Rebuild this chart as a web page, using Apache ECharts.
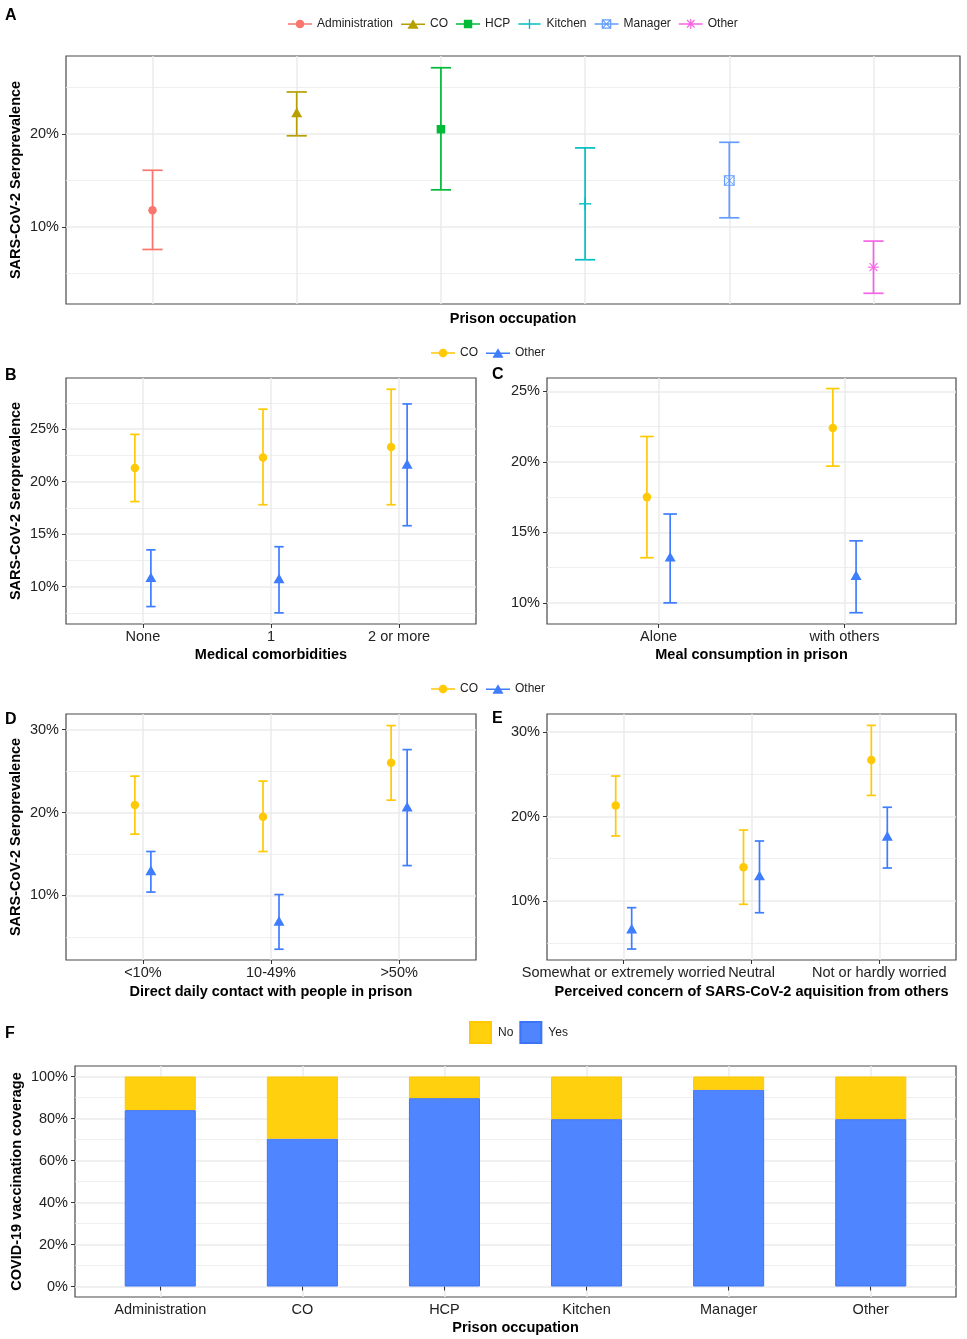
<!DOCTYPE html>
<html><head><meta charset="utf-8">
<script src="https://cdn.jsdelivr.net/npm/echarts@6.0.0/dist/echarts.min.js"></script>
<style>html,body{margin:0;padding:0;background:#fff}#c{width:967px;height:1339px}</style>
</head><body><div id="c"></div>
<script>
// ---------------- DATA ----------------
const occupations = ['Administration', 'CO', 'HCP', 'Kitchen', 'Manager', 'Other'];
const seroA_est  = [11.8, 22.2, 20.5, 12.5, 15.0, 5.7];
const seroA_low  = [7.6, 19.8, 14.0, 6.5, 11.0, 2.9];
const seroA_high = [16.1, 24.5, 27.1, 18.5, 19.1, 8.5];

const comorbCats = ['None', '1', '2 or more'];
const comorbCO_est  = [21.3, 22.3, 23.3];
const comorbCO_low  = [18.1, 17.8, 17.8];
const comorbCO_high = [24.5, 26.9, 28.8];
const comorbOt_est  = [10.8, 10.7, 21.6];
const comorbOt_low  = [8.1, 7.5, 15.8];
const comorbOt_high = [13.5, 13.8, 27.4];

const mealCats = ['Alone', 'with others'];
const mealCO_est  = [17.5, 22.4];
const mealCO_low  = [13.2, 19.7];
const mealCO_high = [21.8, 25.2];
const mealOt_est  = [13.2, 11.9];
const mealOt_low  = [10.0, 9.3];
const mealOt_high = [16.3, 14.4];

const contactCats = ['<10%', '10-49%', '>50%'];
const contactCO_est  = [20.9, 19.5, 26.0];
const contactCO_low  = [17.4, 15.3, 21.5];
const contactCO_high = [24.4, 23.8, 30.5];
const contactOt_est  = [12.9, 6.8, 20.6];
const contactOt_low  = [10.4, 3.5, 13.6];
const contactOt_high = [15.3, 10.1, 27.6];

const concernCats = ['Somewhat or extremely worried', 'Neutral', 'Not or hardly worried'];
const concernCO_est  = [21.3, 14.0, 26.7];
const concernCO_low  = [17.7, 9.6, 22.5];
const concernCO_high = [24.8, 18.4, 30.8];
const concernOt_est  = [6.6, 12.9, 17.6];
const concernOt_low  = [4.3, 8.6, 13.9];
const concernOt_high = [9.2, 17.1, 21.1];

const vaccYes = [84.0, 70.4, 89.7, 79.7, 93.7, 79.7];
const vaccNo  = [16.0, 29.6, 10.3, 20.3, 6.3, 20.3];

// tick values
const ticksA = [10, 20], minorA = [5, 15, 25];
const ticksB = [10, 15, 20, 25], minorB = [7.5, 12.5, 17.5, 22.5, 27.5];
const ticksC = [10, 15, 20, 25], minorC = [12.5, 17.5, 22.5];
const ticksD = [10, 20, 30], minorD = [5, 15, 25];
const ticksE = [10, 20, 30], minorE = [5, 15, 25];
const ticksF = [0, 20, 40, 60, 80, 100], minorF = [10, 30, 50, 70, 90];

// ---------------- STYLE ----------------
const FONT = 'Liberation Sans, Arial, Helvetica, sans-serif';
const GRID_COL = '#EBEBEB';
const TXT = '#222222';
const colorsA = ['#F8766D', '#B79F00', '#00BA38', '#00BFC4', '#619CFF', '#F564E3'];
const shapesA = ['circle', 'triangle', 'square', 'plus', 'squarex', 'asterisk'];
const COL_CO = '#FFC905', COL_OT = '#3F7DFF';

const LINE = 'M0 4.4H20V5.6H0Z';
const iconsA = [
  'path://' + LINE + 'M13.6 5A3.6 3.6 0 1 1 6.4 5A3.6 3.6 0 1 1 13.6 5Z',
  'path://' + LINE + 'M10 0.8L14.6 8.8H5.4Z',
  'path://' + LINE + 'M6.5 1.5H13.5V8.5H6.5Z',
  'path://' + LINE + 'M9.4 0.5H10.6V9.5H9.4Z',
  'path://' + LINE + 'M6 1H14V9H6Z M7 2V8H13V2Z M6 1.7L6.7 1L14 8.3L13.3 9Z M14 1.7L6.7 9L6 8.3L13.3 1Z',
  'path://' + LINE + 'M9.5 0.8H10.5V9.2H9.5Z M6.5 2L7.2 1.3L13.5 7.6L12.8 8.3Z M13.5 2L7.2 8.3L6.5 7.6L12.8 1.3Z'
];
const iconCO = iconsA[0];
const iconOt = iconsA[1];

function ln(x1, y1, x2, y2, color, w) {
  return {type: 'line', shape: {x1, y1, x2, y2}, style: {stroke: color, lineWidth: w || 1.2}};
}
function markerEl(shape, cx, cy, s, color) {
  switch (shape) {
    case 'circle': return {type: 'circle', shape: {cx, cy, r: s / 2}, style: {fill: color}};
    case 'triangle': {
      const h = s * 0.88;
      return {type: 'polygon', shape: {points: [[cx, cy - h * 0.6], [cx + s / 2, cy + h * 0.4], [cx - s / 2, cy + h * 0.4]]}, style: {fill: color}};
    }
    case 'square': return {type: 'rect', shape: {x: cx - s / 2, y: cy - s / 2, width: s, height: s}, style: {fill: color}};
    case 'plus': return {type: 'group', children: [ln(cx - s / 2, cy, cx + s / 2, cy, color, 1.4), ln(cx, cy - s / 2, cx, cy + s / 2, color, 1.4)]};
    case 'squarex': {
      const h = s / 2;
      return {type: 'group', children: [
        {type: 'rect', shape: {x: cx - h, y: cy - h, width: s, height: s}, style: {fill: 'none', stroke: color, lineWidth: 1.2}},
        ln(cx - h, cy - h, cx + h, cy + h, color, 1), ln(cx - h, cy + h, cx + h, cy - h, color, 1)]};
    }
    case 'asterisk': {
      const h = s / 2, d = s / 2 * 0.72;
      return {type: 'group', children: [
        ln(cx - h, cy, cx + h, cy, color, 1.1), ln(cx, cy - h, cx, cy + h, color, 1.1),
        ln(cx - d, cy - d, cx + d, cy + d, color, 1.1), ln(cx - d, cy + d, cx + d, cy - d, color, 1.1)]};
    }
  }
}
function makeRender(capHalf, shape, size, color) {
  return function (params, api) {
    const x = api.value(0), lo = api.value(1), hi = api.value(2), mid = api.value(3);
    const pLo = api.coord([x, lo]), pHi = api.coord([x, hi]), pM = api.coord([x, mid]);
    const xl = api.coord([x - capHalf, lo])[0], xr = api.coord([x + capHalf, lo])[0];
    return {type: 'group', children: [
      ln(pLo[0], pLo[1], pHi[0], pHi[1], color, 1.7),
      ln(xl, pLo[1], xr, pLo[1], color, 1.7),
      ln(xl, pHi[1], xr, pHi[1], color, 1.7),
      markerEl(shape, pM[0], pM[1], size, color)
    ]};
  };
}
function errSeries(name, xi, yi, est, low, high, off, capHalf, shape, size, color) {
  return {
    type: 'custom', name, xAxisIndex: xi, yAxisIndex: yi,
    itemStyle: {color},
    encode: {x: 0, y: [1, 2, 3]},
    data: est.map((m, i) => [i + 1 + off, low[i], high[i], m]),
    renderItem: makeRender(capHalf, shape, size, color)
  };
}

const nameStyle = {fontFamily: FONT, fontSize: 14.5, fontWeight: 'bold', color: '#000'};
const labStyle = {fontFamily: FONT, fontSize: 14.5, color: TXT};

function yMain(gi, min, max, ticks, name, gap) {
  return {type: 'value', gridIndex: gi, min, max, position: 'left',
    name: name || '', nameLocation: 'middle', nameGap: gap || 40, nameRotate: 90, nameTextStyle: nameStyle,
    nameMoveOverlap: false,
    axisLine: {show: false},
    axisTick: {show: true, customValues: ticks, length: 4, lineStyle: {color: '#333', width: 1}},
    axisLabel: Object.assign({show: true, customValues: ticks, margin: 7, formatter: v => v + '%'}, labStyle),
    splitLine: {show: true, lineStyle: {color: GRID_COL, width: 1.5}}};
}
function yMinor(gi, min, max, ticks) {
  return {type: 'value', gridIndex: gi, min, max, position: 'right',
    axisLine: {show: false}, axisTick: {show: false, customValues: ticks},
    axisLabel: {show: false, customValues: ticks},
    splitLine: {show: true, lineStyle: {color: GRID_COL, width: 0.8}}};
}
function xAx(gi, cats, showLab, name, gap) {
  const vals = cats.map((c, i) => i + 1);
  return {type: 'value', gridIndex: gi, min: 0.4, max: cats.length + 0.6, position: 'bottom',
    name, nameLocation: 'middle', nameGap: gap, nameTextStyle: nameStyle,
    axisLine: {show: false},
    axisTick: {show: showLab, customValues: vals, length: 4, lineStyle: {color: '#333', width: 1}},
    axisLabel: Object.assign({show: showLab, customValues: vals, margin: 5, formatter: v => cats[Math.round(v) - 1]}, labStyle),
    splitLine: {show: true, lineStyle: {color: GRID_COL, width: 1.5}}};
}

const gridBase = {show: true, borderColor: '#4a4a4a', borderWidth: 1.2, backgroundColor: 'transparent', containLabel: false, outerBoundsMode: 'none'};
const grids = [
  Object.assign({left: 66, top: 56, width: 894, height: 248}, gridBase),
  Object.assign({left: 66, top: 378, width: 410, height: 246}, gridBase),
  Object.assign({left: 547, top: 378, width: 409, height: 246}, gridBase),
  Object.assign({left: 66, top: 714, width: 410, height: 246}, gridBase),
  Object.assign({left: 547, top: 714, width: 409, height: 246}, gridBase),
  Object.assign({left: 75, top: 1066, width: 881, height: 231}, gridBase)
];

const xAxes = [
  xAx(0, occupations, false, 'Prison occupation', 7),
  xAx(1, comorbCats, true, 'Medical comorbidities', 23),
  xAx(2, mealCats, true, 'Meal consumption in prison', 23),
  xAx(3, contactCats, true, 'Direct daily contact with people in prison', 24),
  xAx(4, concernCats, true, 'Perceived concern of SARS-CoV-2 aquisition from others', 24),
  xAx(5, occupations, true, 'Prison occupation', 23)
];
const yAxes = [
  yMain(0, 1.75, 28.36, ticksA, 'SARS-CoV-2 Seroprevalence', 43), yMinor(0, 1.75, 28.36, minorA),
  yMain(1, 6.44, 29.87, ticksB, 'SARS-CoV-2 Seroprevalence', 43), yMinor(1, 6.44, 29.87, minorB),
  yMain(2, 8.5, 25.95, ticksC, '', 40), yMinor(2, 8.5, 25.95, minorC),
  yMain(3, 2.2, 31.9, ticksD, 'SARS-CoV-2 Seroprevalence', 43), yMinor(3, 2.2, 31.9, minorD),
  yMain(4, 3.0, 32.15, ticksE, '', 40), yMinor(4, 3.0, 32.15, minorE),
  yMain(5, -5, 105, ticksF, 'COVID-19 vaccination coverage', 51), yMinor(5, -5, 105, minorF)
];

const series = [];
const sizesA = [8.5, 11, 8.5, 12, 9.5, 11];
occupations.forEach((n, k) => {
  series.push(errSeries(n, 0, 0, [seroA_est[k]], [seroA_low[k]], [seroA_high[k]], k, 0.07, shapesA[k], sizesA[k], colorsA[k]));
});
const DODGE = 0.0625, CAP = 0.0365;
const panels = [
  [1, 2, comorbCO_est, comorbCO_low, comorbCO_high, comorbOt_est, comorbOt_low, comorbOt_high],
  [2, 4, mealCO_est, mealCO_low, mealCO_high, mealOt_est, mealOt_low, mealOt_high],
  [3, 6, contactCO_est, contactCO_low, contactCO_high, contactOt_est, contactOt_low, contactOt_high],
  [4, 8, concernCO_est, concernCO_low, concernCO_high, concernOt_est, concernOt_low, concernOt_high]
];
panels.forEach(p => {
  series.push(errSeries('CO_g', p[0], p[1], p[2], p[3], p[4], -DODGE, CAP, 'circle', 8.5, COL_CO));
  series.push(errSeries('Other_g', p[0], p[1], p[5], p[6], p[7], DODGE, CAP, 'triangle', 11, COL_OT));
});
// stacked bars: value column first so the stack runs on the y (value) dimension
series.push({type: 'bar', name: 'Yes', xAxisIndex: 5, yAxisIndex: 10, stack: 'v', barWidth: '50%',
  encode: {x: 1, y: 0},
  data: vaccYes.map((v, i) => [v, i + 1]),
  itemStyle: {color: '#4F85FF', borderColor: '#3B74F5', borderWidth: 1}});
series.push({type: 'bar', name: 'No', xAxisIndex: 5, yAxisIndex: 10, stack: 'v', barWidth: '50%',
  encode: {x: 1, y: 0},
  data: vaccNo.map((v, i) => [v, i + 1]),
  itemStyle: {color: '#FFD00D', borderColor: '#FFC800', borderWidth: 1}});

const legText = {fontFamily: FONT, fontSize: 12, color: TXT};
const letter = t => ({text: t.t, left: t.x, top: t.y, padding: 0,
  textStyle: {fontFamily: FONT, fontSize: 16, fontWeight: 'bold', color: '#000'}});

const option = {
  animation: false,
  backgroundColor: '#fff',
  title: [
    {t: 'A', x: 5, y: 8}, {t: 'B', x: 5, y: 368}, {t: 'C', x: 492, y: 367},
    {t: 'D', x: 5, y: 712}, {t: 'E', x: 492, y: 711}, {t: 'F', x: 5, y: 1026}
  ].map(letter),
  legend: [
    {left: 283, top: 13, itemWidth: 24, itemHeight: 10, itemGap: 8, textStyle: legText,
      data: occupations.map((n, k) => ({name: n, icon: iconsA[k]}))},
    {left: 426, top: 342, itemWidth: 24, itemHeight: 10, itemGap: 8, textStyle: legText,
      formatter: n => n.replace('_g', ''),
      data: [{name: 'CO_g', icon: iconCO}, {name: 'Other_g', icon: iconOt}]},
    {left: 426, top: 678, itemWidth: 24, itemHeight: 10, itemGap: 8, textStyle: legText,
      formatter: n => n.replace('_g', ''),
      data: [{name: 'CO_g', icon: iconCO}, {name: 'Other_g', icon: iconOt}]},
    {left: 464, top: 1016, itemWidth: 25, itemHeight: 21, itemGap: 6, textStyle: legText,
      data: [{name: 'No', icon: 'path://M0 0H10V10H0Z'}, {name: 'Yes', icon: 'path://M0 0H10V10H0Z'}]}
  ],
  grid: grids,
  xAxis: xAxes,
  yAxis: yAxes,
  series
};
const chart = echarts.init(document.getElementById('c'), null, {renderer: 'canvas'});
chart.setOption(option);
</script></body></html>
